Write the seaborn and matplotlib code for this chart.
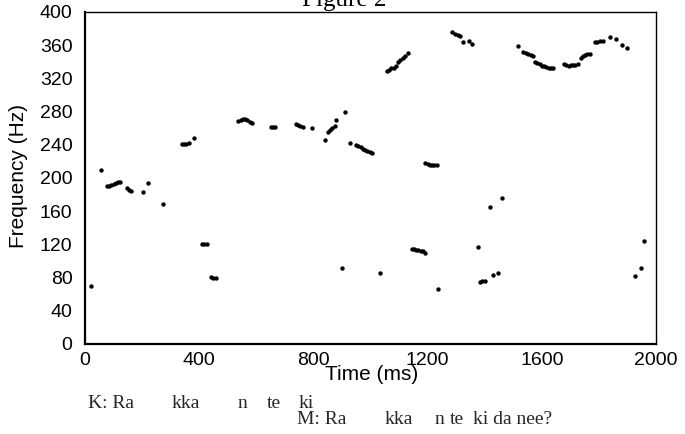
import matplotlib
matplotlib.use("Agg")
import matplotlib.pyplot as plt
import seaborn as sns
import pandas as pd

# Pitch track samples (time in ms, frequency in Hz)
time_ms = [
    20, 56,
    76, 84, 92, 100, 108, 116, 122,
    146, 154, 162, 202, 222, 272,
    339, 347, 355, 363, 383,
    409, 417, 426, 440, 449, 458,
    537, 545, 553, 561, 569, 577, 585,
    650, 658, 665,
    738, 746, 754, 762, 794,
    841, 850, 858, 866, 875, 879, 900, 911, 929,
    949, 957, 965, 973, 981, 989, 997, 1004,
    1033,
    1057, 1065, 1073, 1081, 1090, 1097, 1105, 1113, 1121, 1130,
    1144, 1152, 1160, 1168, 1176, 1184, 1191,
    1192, 1200, 1208, 1216, 1224, 1232,
    1238,
    1284, 1296, 1305, 1313, 1323, 1345, 1355,
    1375, 1383, 1392, 1401, 1417, 1428, 1448, 1459,
    1518, 1535, 1544, 1553, 1562, 1570,
    1576, 1584, 1592, 1600, 1608, 1616, 1624, 1632, 1640,
    1678, 1686, 1694, 1702, 1710, 1718, 1728,
    1736, 1744, 1752, 1760, 1770,
    1786, 1795, 1804, 1813, 1839, 1860, 1880, 1899,
    1928, 1949, 1959,
]
freq_hz = [
    70, 210,
    190, 190, 191, 193, 194, 195, 195,
    188, 186, 184, 183, 194, 169,
    241, 241, 241, 242, 248,
    121, 121, 120.5, 81, 80, 79,
    269, 270, 271, 270.5, 269.5, 268, 266,
    261, 261, 261,
    265, 264, 263, 262, 260,
    246, 256, 258, 260, 263, 270, 91, 279, 242.5,
    240, 238.5, 237, 235.5, 234, 232.5, 231, 230,
    85,
    329, 330.5, 332, 333, 334.5, 339.5, 342, 344.5, 347.5, 350.5,
    114, 114, 113.5, 113, 112.5, 111.5, 110,
    218.5, 217, 216, 216, 216, 216,
    66.5,
    376, 373, 372, 371, 363.5, 365, 362,
    116.5, 75, 75.5, 76, 164.5, 83, 86, 176.5,
    359.5, 351.5, 350.5, 349.5, 348.5, 347,
    340, 338, 337, 335.5, 334.5, 333.5, 332.5, 332, 332,
    337, 336, 335.5, 336, 336.5, 336.5, 337,
    344.5, 346.5, 348, 349, 350,
    363.5, 364, 364.5, 365, 370, 368, 360, 357,
    82, 92, 124,
]

x_ticks = [0, 400, 800, 1200, 1600, 2000]
y_ticks = [0, 40, 80, 120, 160, 200, 240, 280, 320, 360, 400]

k_syllables = ["K: Ra", "kka", "n", "te", "ki"]
k_onsets_ms = [10, 305, 535, 638, 748]
m_syllables = ["M: Ra", "kka", "n", "te", "ki da nee?"]
m_onsets_ms = [742, 1051, 1226, 1279, 1359]

df = pd.DataFrame({"Time (ms)": time_ms, "Frequency (Hz)": freq_hz})

sns.set_style("white")
plt.rcParams["font.family"] = ["Liberation Sans", "DejaVu Sans"]

W, H = 685, 434
fig = plt.figure(figsize=(W / 100, H / 100), dpi=100)
ax = fig.add_axes([85 / W, 1 - 344 / H, (656 - 85) / W, (344 - 12) / H])

sns.scatterplot(data=df, x="Time (ms)", y="Frequency (Hz)", ax=ax,
                color="black", s=10, linewidth=0, legend=False)

ax.set_xlim(0, 2000)
ax.set_ylim(0, 400)
ax.set_xticks(x_ticks)
ax.set_yticks(y_ticks)
ax.tick_params(axis="both", labelsize=14, length=2, width=0.8, color="black",
               labelcolor="black")
ax.tick_params(axis="x", pad=4)
ax.tick_params(axis="y", pad=7)

for side in ["left", "bottom"]:
    ax.spines[side].set_linewidth(1.6)
    ax.spines[side].set_color("black")
for side in ["top", "right"]:
    ax.spines[side].set_linewidth(1.0)
    ax.spines[side].set_color("black")
    ax.spines[side].set_visible(True)

ax.set_xlabel("Time (ms)", fontsize=15, color="black")
ax.set_ylabel("Frequency (Hz)", fontsize=15, color="black")
ax.xaxis.set_label_coords(0.502, -0.062)
ax.yaxis.set_label_coords(-0.1, 0.506)

serif = ["Liberation Serif", "DejaVu Serif"]
fig.text(344 / W, 1 - 6 / H, "Figure 2", ha="center", va="baseline",
         fontsize=18, family=serif, color="black")

for label, onset in zip(k_syllables, k_onsets_ms):
    ax.annotate(label, xy=(onset, 0), xycoords=("data", "axes fraction"),
                xytext=(0, -(408 - 344) * 0.72), textcoords="offset points",
                ha="left", va="baseline", fontsize=14, family=serif,
                annotation_clip=False)
for label, onset in zip(m_syllables, m_onsets_ms):
    ax.annotate(label, xy=(onset, 0), xycoords=("data", "axes fraction"),
                xytext=(0, -(424 - 344) * 0.72), textcoords="offset points",
                ha="left", va="baseline", fontsize=14, family=serif,
                annotation_clip=False)

fig.savefig("out.png", dpi=100)
